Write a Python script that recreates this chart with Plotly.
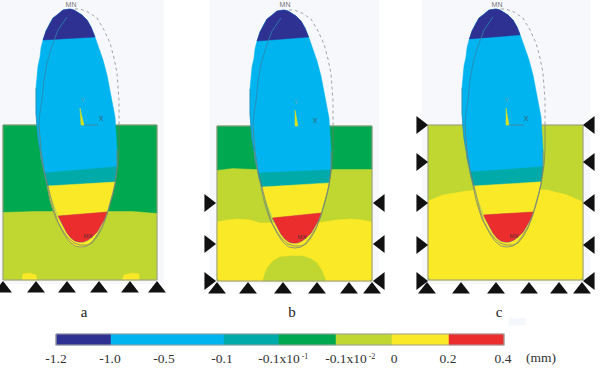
import plotly.graph_objects as go

# palette / legend
legend_labels = ["-1.2", "-1.0", "-0.5", "-0.1", "-0.1x10", "-0.1x10", "0", "0.2", "0.4"]
legend_powers = ["", "", "", "", "-1", "-2", "", "", ""]
legend_x = [56, 111, 167, 224, 279, 336, 392, 449, 504]
label_x = [56, 110, 164, 222, 279, 346, 394, 448, 503]
legend_colors = ["#2e3192", "#00b4ef", "#00b4ef", "#00aaa8", "#00a94f", "#bfd730", "#f9e926", "#ec2d2d"]
DB, CY, TE, GR, YG, YE, RE = "#2e3192", "#00b4ef", "#00aaa8", "#00a94f", "#bfd730", "#f9e926", "#ec2d2d"

# implant outlines, in panel-a coordinates
outer_top = [(63,10),(67,9),(70,9),(74,10),(77,12),(82,15),(87,20),(91,27),(95,37),(99,48),(103,60),(107,75),(110,90),
             (113,104),(115,117),(116,133),(117,150)]
outer_low = [(117,150),(117,167),(115,183),(113,193),(110,203),(107,215),(103,225),(99,232),(95,238),(91,243),(87,246),
             (81,247),(75,246),(71,243),(68,240),(64,234),(60,227),(56,219),(53,210),(50,200),(48,190),(45,178),(43,167),
             (41,158),(40,150)]
outer_left = [(40,150),(38,138),(37,127),(36,113),(36,100),(36,88),(37,77),(38,66),(40,57),(41,48),(43,40),(46,31),(50,23),
              (53,18),(57,15),(60,12)]
body_low = [(117,150),(117,167),(115,183),(111,198),(107,212),(104,220),(100,227),(97,232),(93,236),(88,240),(83,242),
            (79,242),(75,241),(71,238),(67,233),(63,226),(59,218),(56,211),(53,203),(50,195),(48,187),(45,177),(43,167),
            (41,158),(40,150)]
outer = outer_top + outer_low[1:] + outer_left[1:]
body = outer_top + body_low[1:] + outer_left[1:]
ghost = [(75,9),(80,9),(88,12),(97,18),(104,30),(110,43),(114,58),(117,73),(119,100),(119,125)]
inner_top = [(67,17),(62,24),(58,30),(52,46),(47,63),(44,80),(42,100),(40,112),(39,125)]
inner_low = [(39,125),(41,150),(44,170),(50,195),(54,210),(58,222),(63,231),(68,238),(74,243),(80,245),(87,245),(92,243),
             (97,237),(102,228),(106,217),(110,205),(115,185),(118,165),(119,150),(119,125)]

# panels
panel_names = ["a", "b", "c"]
panel_dx = [0, 214, 426]
panel_dy = [0, 1, 0]
panel_bg = [(0,164,0,284), (210,379,0,284), (422,590,0,284)]
block_box = [(3,157,125,280), (217,372,126,281), (428,583,125,280)]
name_x = [84, 292, 499]
# band boundaries: (x0,y0,x1,y1) dark/cyan, cyan/teal, teal/yellow, yellow/red
bands = [
    [(43,40,95,37), (45,173,113,167), (47,186,115,182), (58,216,107,212)],
    [(257,41,309,37), (259,173,328,170), (263,187,328,183), (272,218,321,213)],
    [(468,39,518,35), (470,172,540,167), (473,186,539,182), (482,215,533,212)],
]
# contour regions of the blocks
a_green = [(3,125),(157,125),(157,213),(133,211),(33,211),(3,212)]
a_patch1 = [(22,280),(23,274),(30,273),(36,275),(37,280)]
a_patch2 = [(122,280),(124,275),(132,273),(139,274),(139,280)]
b_green = [(217,126),(372,126),(372,169),(345,169),(333,169),(253,169),(233,168),(217,170)]
b_yellow = [(220,281),(217,277),(217,222),(227,220),(237,219),(250,220),(260,223),(323,222),(337,220),(350,219),(362,220),
            (372,222),(372,278),(369,281)]
b_bump = [(263,281),(265,273),(268,267),(273,261),(280,257),(291,256),(303,256),(311,259),(317,263),(322,271),(326,281)]
c_yellow = [(431,280),(428,276),(428,201),(443,195),(467,191),(505,188),(547,190),(567,195),(583,202),(583,276),(580,280)]

# boundary condition triangles
a_tri_up = [3, 36, 67, 99, 130, 157]
b_tri_up = [217, 248, 283, 317, 349, 372]
c_tri_up = [427, 461, 496, 529, 559, 582]
b_tri_side = [203, 244, 281]
c_tri_side = [125, 162, 203, 245, 281]

# triad
triad_tip = [(80,108), (295,110), (506,108)]
triad_base = [(81,84,125), (295,298,126), (506,509,125)]
triad_x_end = [98, None, 524]
xlab = [(101,119), (315,121), (526,119)]
ylab = [(83,100), (296,102), (507,100)]

fig = go.Figure()

def poly(pts, color, line=None, lw=1):
    xs = [p[0] for p in pts] + [pts[0][0]]
    ys = [p[1] for p in pts] + [pts[0][1]]
    fig.add_trace(go.Scatter(x=xs, y=ys, mode="lines", fill="toself", fillcolor=color,
                             line=dict(color=line or color, width=lw if line else 0.5), hoverinfo="skip"))

def path(pts, color, w=1, dash=None):
    fig.add_trace(go.Scatter(x=[p[0] for p in pts], y=[p[1] for p in pts], mode="lines",
                             line=dict(color=color, width=w, dash=dash), hoverinfo="skip"))

def tris(xs, ys, sym):
    fig.add_trace(go.Scatter(x=xs, y=ys, mode="markers", hoverinfo="skip",
                             marker=dict(symbol=sym, size=15.5, color="#111111", line=dict(width=0))))

def clip(pts, seg, keep_below):
    x0, y0, x1, y1 = seg
    def side(p):
        v = (p[1] - y0) - (y1 - y0) * (p[0] - x0) / (x1 - x0)
        return v if keep_below else -v
    out = []
    for i, p in enumerate(pts):
        q = pts[(i + 1) % len(pts)]
        a, b = side(p), side(q)
        if a >= 0:
            out.append(p)
        if a * b < 0:
            t = a / (a - b)
            out.append((p[0] + t * (q[0] - p[0]), p[1] + t * (q[1] - p[1])))
    return out

def txt(x, y, s, size, color="#222222", family="Liberation Serif"):
    fig.add_trace(go.Scatter(x=[x], y=[y], mode="text", text=[s], textposition="middle center",
                             textfont=dict(size=size, color=color, family=family), hoverinfo="skip"))

# light panel backgrounds
for x0, x1, y0, y1 in panel_bg:
    poly([(x0,y0),(x1,y0),(x1,y1),(x0,y1)], "#f6f8fc")
poly([(509,318),(525,318),(525,325),(509,325)], "#f4f7fb")

# blocks
x0, x1, y0, y1 = block_box[0]
poly([(x0,y0),(x1,y0),(x1,y1),(x0,y1)], YG)
poly(a_green, GR); poly(a_patch1, YE); poly(a_patch2, YE)
x0, x1, y0, y1 = block_box[1]
poly([(x0,y0),(x1,y0),(x1,y1),(x0,y1)], YG)
poly(b_green, GR); poly(b_yellow, YE); poly(b_bump, YG)
x0, x1, y0, y1 = block_box[2]
poly([(x0,y0),(x1,y0),(x1,y1),(x0,y1)], YG)
poly(c_yellow, YE)
for x0, x1, y0, y1 in block_box:
    path([(x0,y0),(x0,y1),(x1,y1),(x1,y0),(x0,y0)], "#9a9a8c", 1)

# triangles (apex on block edge; marker centre sits half a size beyond)
h = 7.7
tris(a_tri_up, [281 + h] * 6, "triangle-up")
tris(b_tri_up, [282 + h] * 6, "triangle-up")
tris(c_tri_up, [282 + h] * 6, "triangle-up")
tris([216 - h] * 3, b_tri_side, "triangle-right")
tris([373 + h] * 3, b_tri_side, "triangle-left")
tris([428 - h] * 5, c_tri_side, "triangle-right")
tris([583 + h] * 5, c_tri_side, "triangle-left")

# implants
for i, (dx, dy) in enumerate(zip(panel_dx, panel_dy)):
    sh = lambda pts: [(p[0] + dx, p[1] + dy) for p in pts]
    o, b = sh(outer), sh(body)
    s1, s2, s3, s4 = bands[i]
    if i == 0:
        poly(clip(o, s3, True), YE)
    poly(b, CY)
    poly(clip(b, s1, False), DB)
    poly(clip(clip(b, s2, True), s3, False), TE)
    poly(clip(clip(b, s3, True), s4, False), YE)
    poly(clip(b, s4, True), RE)
    path(sh(ghost), "#9a9a9a", 0.9, "dot")
    path(sh(inner_top), "#2f86ad", 0.8)
    path(sh(inner_low), "#6b7a6a", 0.7)
    path(sh(outer_low), "#7a8678", 0.8)
    path(sh(outer_left[:6]), "#2f86ad", 0.7)
    tx, ty = triad_tip[i]
    bx0, bx1, by = triad_base[i]
    poly([(tx, ty), (bx0, by), (bx1, by)], "#d9e021")
    if triad_x_end[i]:
        path([(bx1, by), (triad_x_end[i], by)], "#4f7f8f", 0.8)
    txt(dx + 71, 5, "MN", 7, "#777777", "Liberation Sans")
    txt(xlab[i][0], xlab[i][1], "X", 7, "#3f6070", "Liberation Sans")
    txt(ylab[i][0], ylab[i][1], "Y", 6, "#7fa0a0", "Liberation Sans")
    txt(dx + 88, dy + 236, "MX", 6, "#5a3030", "Liberation Sans")
    txt(name_x[i], 313, panel_names[i], 15, "#222222")

# colour scale
for i, c in enumerate(legend_colors):
    poly([(legend_x[i],334),(legend_x[i+1],334),(legend_x[i+1],345),(legend_x[i],345)], c)
path([(56,334),(504,334),(504,345),(56,345),(56,334)], "#a0a0a0", 1.2)
for lx, s, pw in zip(label_x, legend_labels, legend_powers):
    txt(lx, 360, s, 13.5, "#333333")
    if pw:
        txt(lx + 26, 357, pw, 8, "#333333")
txt(541, 359, "(mm)", 13.5, "#333333")

fig.update_layout(width=600, height=371, margin=dict(l=0, r=0, t=0, b=0), showlegend=False,
                  paper_bgcolor="white", plot_bgcolor="white",
                  xaxis=dict(range=[0, 600], visible=False, fixedrange=True),
                  yaxis=dict(range=[371, 0], visible=False, fixedrange=True))
fig.write_html("out.html", config=dict(displayModeBar=False),
               post_script="document.body.style.margin='0';")
